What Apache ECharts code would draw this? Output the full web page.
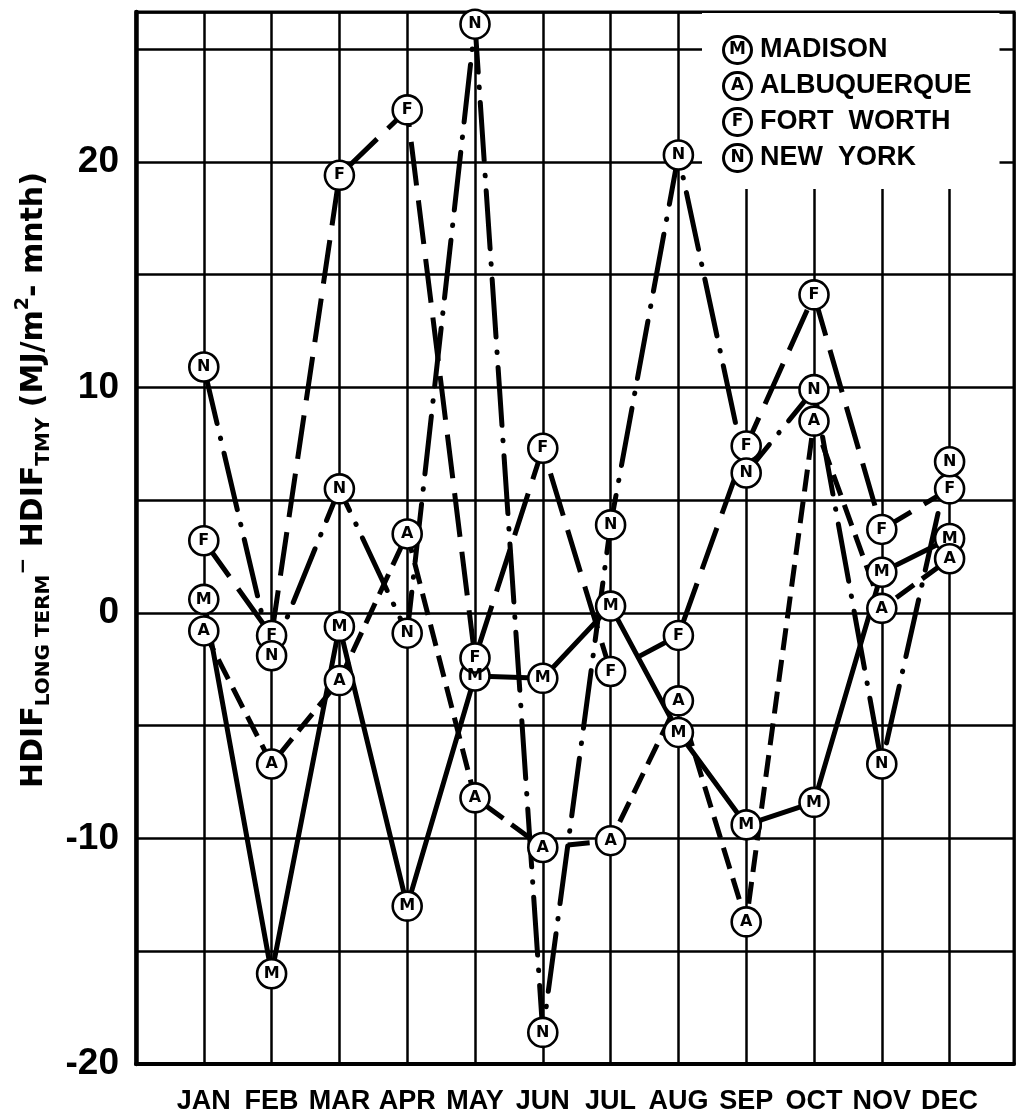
<!DOCTYPE html>
<html><head><meta charset="utf-8">
<script src="https://cdn.jsdelivr.net/npm/echarts@6/dist/echarts.min.js"></script>
<style>html,body{margin:0;padding:0;background:#fff}#c{width:1017px;height:1119px}</style>
</head><body><div id="c"></div>
<script>
// ---- data ----
const months = ['JAN','FEB','MAR','APR','MAY','JUN','JUL','AUG','SEP','OCT','NOV','DEC'];
const madison     = [0.6, -16.0, -0.6, -13.0, -2.8, -2.9, 0.3, -5.3, -9.4, -8.4, 1.8, 3.3];
const albuquerque = [-0.8, -6.7, -3.0, 3.5, -8.2, -10.4, -10.1, -3.9, -13.7, 8.5, 0.2, 2.4];
const fortWorth   = [3.2, -1.0, 19.4, 22.3, -2.0, 7.3, -2.6, -1.0, 7.4, 14.1, 3.7, 5.5];
const newYork     = [10.9, -1.9, 5.5, -0.9, 26.1, -18.6, 3.9, 20.3, 6.2, 9.9, -6.7, 6.7];
const seriesNames = ['MADISON', 'ALBUQUERQUE', 'FORT WORTH', 'NEW YORK'];
const seriesLetters = ['M', 'A', 'F', 'N'];
const yLabeled = [-20, -10, 0, 10, 20];

const chart = echarts.init(document.getElementById('c'), null, {renderer: 'canvas'});
const letterOf = {};
seriesNames.forEach((n, i) => letterOf[n] = seriesLetters[i]);

function mk(idx, vals, lineType, cap) {
  const letter = seriesLetters[idx];
  return {
    name: seriesNames[idx], type: 'line',
    data: vals.map((v, i) => [i + 1, v]),
    symbol: 'circle', symbolSize: 29,
    itemStyle: {color: '#fff', borderColor: '#000', borderWidth: 2.6},
    lineStyle: {color: '#000', width: 5, type: lineType, cap: cap},
    label: {show: true, position: 'inside', formatter: letter, fontSize: 16,
            fontWeight: 'bold', color: '#000', fontFamily: 'DejaVu Sans'},
    emphasis: {disabled: true},
    animation: false
  };
}

const option = {
  backgroundColor: '#fff',
  animation: false,
  grid: {left: 136, right: 0, top: 12, bottom: 55, show: true,
         borderColor: '#000', borderWidth: 3, backgroundColor: 'transparent'},
  xAxis: {
    type: 'value', min: 0, max: 12.95, interval: 1,
    axisLine: {show: true, onZero: false, lineStyle: {color: '#000', width: 4}},
    axisTick: {show: false},
    splitLine: {show: true, lineStyle: {color: '#000', width: 2.5}},
    axisLabel: {
      color: '#000', fontSize: 27, fontWeight: 'bold', fontFamily: 'Liberation Sans',
      margin: 24, showMinLabel: true, showMaxLabel: true,
      formatter: v => (Number.isInteger(v) && v >= 1 && v <= 12) ? months[v - 1] : ''
    }
  },
  yAxis: {
    type: 'value', min: -20, max: 26.64, interval: 5,
    axisLine: {show: true, onZero: false, lineStyle: {color: '#000', width: 4.5}},
    axisTick: {show: false},
    splitLine: {show: true, lineStyle: {color: '#000', width: 2.5}},
    axisLabel: {
      color: '#000', fontSize: 37, fontWeight: 'bold', fontFamily: 'Liberation Sans', margin: 17,
      formatter: v => {
        const r = Math.round(v);
        if (Math.abs(v - r) > 1e-6 || yLabeled.indexOf(r) < 0) return '';
        return r < 0 ? '-' + (-r) : String(r);
      }
    }
  },
  legend: {
    data: seriesNames,
    orient: 'vertical', left: 702, top: 13,
    itemGap: 6, itemWidth: 0, itemHeight: 0,
    padding: [22, 28, 16, 18], backgroundColor: '#fff',
    selectedMode: false,
    itemStyle: {color: 'rgba(0,0,0,0)', borderColor: 'rgba(0,0,0,0)', borderWidth: 0},
    lineStyle: {color: 'rgba(0,0,0,0)', width: 0},
    formatter: name => '{c|' + letterOf[name] + '}{t|' + name.replace(' ', '  ') + '}',
    textStyle: {
      rich: {
        c: {width: 25, height: 24, lineHeight: 24, borderRadius: 15, borderColor: '#000',
            borderWidth: 3, align: 'center', fontSize: 17, fontWeight: 'bold',
            fontFamily: 'DejaVu Sans', color: '#000', backgroundColor: '#fff'},
        t: {fontSize: 27, fontWeight: 'bold', fontFamily: 'Liberation Sans', color: '#000',
            lineHeight: 28, padding: [0, 0, 0, 10]}
      }
    }
  },
  graphic: [{
    type: 'text', x: 34, y: 480, rotation: Math.PI / 2, z: 10,
    style: {
      text: '{m|HDIF}{s|LONG TERM}{p|−}{m| HDIF}{s|TMY}{m| (MJ/m}{u|2}{m|- mnth)}',
      align: 'center', verticalAlign: 'middle', fill: '#000',
      rich: {
        m: {fontSize: 30, fontWeight: 'bold', fontFamily: 'DejaVu Sans', lineHeight: 40, fill: '#000'},
        s: {fontSize: 20, fontWeight: 'bold', fontFamily: 'DejaVu Sans', lineHeight: 14, verticalAlign: 'bottom', fill: '#000'},
        p: {fontSize: 20, fontWeight: 'bold', fontFamily: 'DejaVu Sans', lineHeight: 16, verticalAlign: 'top', fill: '#000'},
        u: {fontSize: 19, fontWeight: 'bold', fontFamily: 'DejaVu Sans', lineHeight: 16, verticalAlign: 'top', fill: '#000'}
      }
    }
  }],
  series: [
    mk(0, madison, 'solid', 'round'),
    mk(1, albuquerque, [22, 10], 'butt'),
    mk(2, fortWorth, [44, 15], 'butt'),
    mk(3, newYork, [58, 15, 0.5, 15], 'round')
  ]
};
chart.setOption(option);
</script>
</body></html>
